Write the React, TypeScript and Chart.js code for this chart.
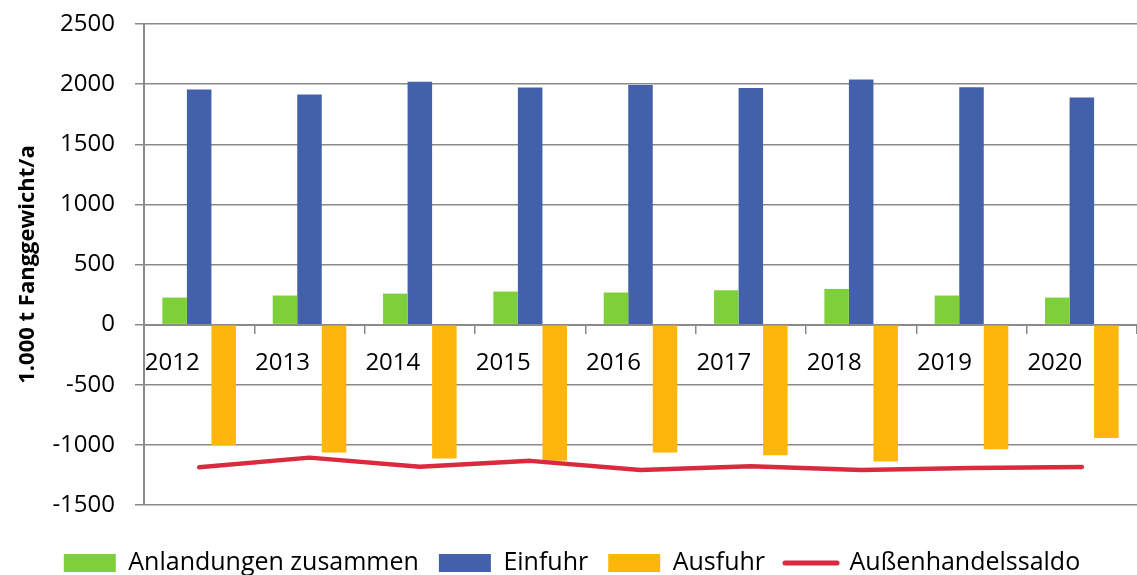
import React, { useEffect, useRef } from "react";
import { Chart, registerables } from "chart.js";

Chart.register(...registerables);

const years = ["2012", "2013", "2014", "2015", "2016", "2017", "2018", "2019", "2020"];
const landings = [225, 242, 258, 275, 267, 286, 297, 242, 225];
const imports = [1956, 1914, 2019, 1972, 1992, 1967, 2039, 1975, 1889];
const exportsData = [-1000, -1064, -1114, -1133, -1064, -1086, -1139, -1036, -942];
const saldo = [-1186, -1106, -1181, -1133, -1208, -1178, -1208, -1192, -1184];

const FONT = "'Open Sans', 'Noto Sans', sans-serif";
const GRID = "#8a8a8a";

export default function App() {
  const ref = useRef<HTMLCanvasElement | null>(null);

  useEffect(() => {
    if (!ref.current) return;
    const chart = new Chart(ref.current, {
      type: "bar",
      data: {
        labels: years,
        datasets: [
          {
            type: "bar",
            label: "Anlandungen zusammen",
            data: landings,
            backgroundColor: "#7ED03B",
            order: 1,
          },
          {
            type: "bar",
            label: "Einfuhr",
            data: imports,
            backgroundColor: "#4360AB",
            order: 1,
          },
          {
            type: "bar",
            label: "Ausfuhr",
            data: exportsData,
            backgroundColor: "#FFB60A",
            order: 1,
          },
          {
            type: "line",
            label: "Außenhandelssaldo",
            data: saldo,
            borderColor: "#DA2A3E",
            backgroundColor: "#DA2A3E",
            borderWidth: 4.5,
            pointRadius: 0,
            tension: 0,
            borderCapStyle: "round",
            borderJoinStyle: "round",
            order: 0,
          } as any,
        ],
      },
      options: {
        animation: false,
        responsive: true,
        maintainAspectRatio: false,
        layout: { padding: { top: 24, left: 0, right: -7, bottom: 0 } },
        datasets: {
          bar: { categoryPercentage: 0.667, barPercentage: 1 },
        },
        plugins: {
          tooltip: { enabled: false },
          legend: {
            position: "bottom",
            maxHeight: 70,
            title: {
              display: true,
              text: " ",
              color: "rgba(0,0,0,0)",
              font: { size: 10, family: FONT },
              padding: 6.75,
            },
            labels: {
              usePointStyle: true,
              pointStyleWidth: 52,
              boxHeight: 18,
              padding: 20,
              color: "#000",
              font: { size: 25, family: FONT },
              sort: (a: any, b: any) => a.datasetIndex - b.datasetIndex,
              generateLabels: (c: any) => {
                const items = Chart.defaults.plugins.legend.labels.generateLabels(c);
                return items.map((it: any) => {
                  const ds = c.data.datasets[it.datasetIndex];
                  if (ds.type === "line") {
                    return { ...it, pointStyle: "line", lineWidth: 5, strokeStyle: "#DA2A3E", fillStyle: "#DA2A3E", lineCap: "round" };
                  }
                  return { ...it, pointStyle: "rect", lineWidth: 0, strokeStyle: "rgba(0,0,0,0)" };
                });
              },
            },
          },
        },
        scales: {
          x: {
            type: "category",
            offset: true,
            position: { y: 0 } as any,
            grid: {
              display: true,
              offset: true,
              drawOnChartArea: false,
              drawTicks: true,
              tickLength: 8,
              color: GRID,
              lineWidth: 1.5,
            },
            border: { display: true, color: GRID, width: 2 },
            ticks: {
              color: "#000",
              font: { size: 24, family: FONT },
              padding: 16,
              labelOffset: -27,
              maxRotation: 0,
              autoSkip: false,
            },
          },
          y: {
            min: -1500,
            max: 2500,
            afterFit: (s: any) => {
              s.width = 144;
              s.paddingTop = 10;
              s.paddingBottom = 10;
            },
            ticks: {
              stepSize: 500,
              color: "#000",
              font: { size: 24, family: FONT },
              padding: 20,
              callback: (v: any) => String(v),
            },
            grid: {
              color: GRID,
              lineWidth: 1.5,
              tickLength: 9,
              drawTicks: true,
            },
            border: { display: true, color: GRID, width: 2 },
            title: {
              display: true,
              text: "1.000 t Fanggewicht/a",
              color: "#000",
              font: { size: 22, weight: "bold", family: FONT },
              padding: { top: 15, bottom: 0 },
            },
          },
        },
      },
    });
    return () => chart.destroy();
  }, []);

  return (
    <div style={{ position: "fixed", left: 0, top: 0, width: 1137, height: 575, background: "#fff" }}>
      <canvas ref={ref} />
    </div>
  );
}
